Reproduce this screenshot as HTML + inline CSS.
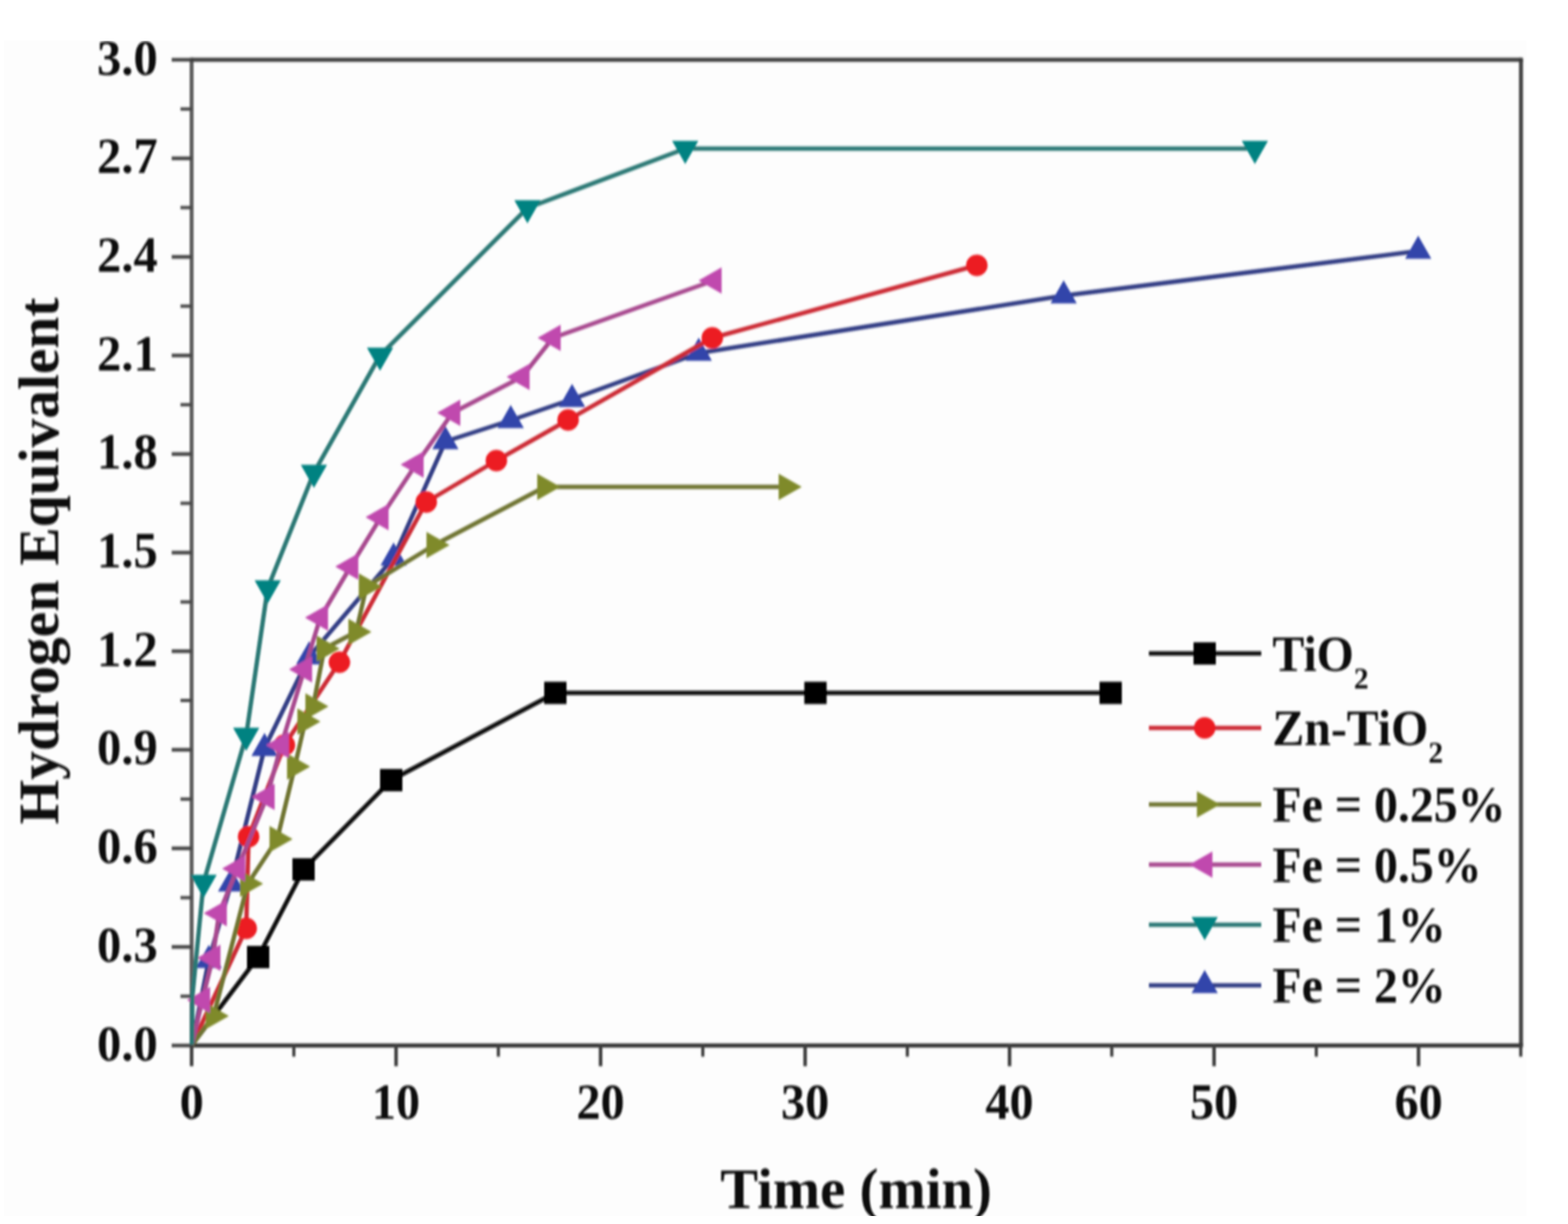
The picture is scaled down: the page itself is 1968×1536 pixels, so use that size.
<!DOCTYPE html><html><head><meta charset="utf-8"><style>html,body{margin:0;padding:0;background:#fff;}svg{display:block}text{font-family:"Liberation Serif","Times New Roman",serif;font-weight:bold;fill:#111;}</style></head><body>
<svg width="1968" height="1536" viewBox="0 0 1968 1536">
<rect x="0" y="0" width="1968" height="1536" fill="#ffffff"/>
<defs><filter id="soft" filterUnits="userSpaceOnUse" x="0" y="0" width="1968" height="1536"><feGaussianBlur stdDeviation="1.0 1.5"/></filter></defs>
<rect x="5" y="51" width="1911" height="1475" fill="#fdfdfd"/>
<g filter="url(#soft)">
<g stroke="#404040" stroke-width="5" fill="none">
<path d="M240.5 75H1909" stroke="#3a3a3a"/>
<path d="M1909 75V1312" stroke="#454545"/>
<path d="M240.5 1312H1909" stroke="#2e2e2e"/>
<path d="M240.5 75V1312" stroke="#606060"/>
<path d="M238.0 75h5M1906.5 75h5M238.0 1312h5M1906.5 1312h5" stroke="#3a3a3a"/>
<line x1="215.5" y1="1312.0" x2="240.5" y2="1312.0" stroke-width="4.5"/>
<line x1="226.5" y1="1250.2" x2="240.5" y2="1250.2" stroke-width="4"/>
<line x1="215.5" y1="1188.3" x2="240.5" y2="1188.3" stroke-width="4.5"/>
<line x1="226.5" y1="1126.5" x2="240.5" y2="1126.5" stroke-width="4"/>
<line x1="215.5" y1="1064.6" x2="240.5" y2="1064.6" stroke-width="4.5"/>
<line x1="226.5" y1="1002.8" x2="240.5" y2="1002.8" stroke-width="4"/>
<line x1="215.5" y1="940.9" x2="240.5" y2="940.9" stroke-width="4.5"/>
<line x1="226.5" y1="879.0" x2="240.5" y2="879.0" stroke-width="4"/>
<line x1="215.5" y1="817.2" x2="240.5" y2="817.2" stroke-width="4.5"/>
<line x1="226.5" y1="755.4" x2="240.5" y2="755.4" stroke-width="4"/>
<line x1="215.5" y1="693.5" x2="240.5" y2="693.5" stroke-width="4.5"/>
<line x1="226.5" y1="631.6" x2="240.5" y2="631.6" stroke-width="4"/>
<line x1="215.5" y1="569.8" x2="240.5" y2="569.8" stroke-width="4.5"/>
<line x1="226.5" y1="507.9" x2="240.5" y2="507.9" stroke-width="4"/>
<line x1="215.5" y1="446.1" x2="240.5" y2="446.1" stroke-width="4.5"/>
<line x1="226.5" y1="384.2" x2="240.5" y2="384.2" stroke-width="4"/>
<line x1="215.5" y1="322.4" x2="240.5" y2="322.4" stroke-width="4.5"/>
<line x1="226.5" y1="260.5" x2="240.5" y2="260.5" stroke-width="4"/>
<line x1="215.5" y1="198.7" x2="240.5" y2="198.7" stroke-width="4.5"/>
<line x1="226.5" y1="136.8" x2="240.5" y2="136.8" stroke-width="4"/>
<line x1="215.5" y1="75.0" x2="240.5" y2="75.0" stroke-width="4.5"/>
<line x1="240.5" y1="1312" x2="240.5" y2="1338" stroke-width="4.5"/>
<line x1="368.8" y1="1312" x2="368.8" y2="1326" stroke-width="4"/>
<line x1="497.1" y1="1312" x2="497.1" y2="1338" stroke-width="4.5"/>
<line x1="625.5" y1="1312" x2="625.5" y2="1326" stroke-width="4"/>
<line x1="753.8" y1="1312" x2="753.8" y2="1338" stroke-width="4.5"/>
<line x1="882.1" y1="1312" x2="882.1" y2="1326" stroke-width="4"/>
<line x1="1010.5" y1="1312" x2="1010.5" y2="1338" stroke-width="4.5"/>
<line x1="1138.8" y1="1312" x2="1138.8" y2="1326" stroke-width="4"/>
<line x1="1267.1" y1="1312" x2="1267.1" y2="1338" stroke-width="4.5"/>
<line x1="1395.4" y1="1312" x2="1395.4" y2="1326" stroke-width="4"/>
<line x1="1523.8" y1="1312" x2="1523.8" y2="1338" stroke-width="4.5"/>
<line x1="1652.1" y1="1312" x2="1652.1" y2="1326" stroke-width="4"/>
<line x1="1780.4" y1="1312" x2="1780.4" y2="1338" stroke-width="4.5"/>
<line x1="1908.7" y1="1312" x2="1908.7" y2="1326" stroke-width="4"/>
</g>
<g font-size="61" text-anchor="end">
<text transform="translate(198,1330.5) scale(1,1.03)">0.0</text>
<text transform="translate(198,1206.8) scale(1,1.03)">0.3</text>
<text transform="translate(198,1083.1) scale(1,1.03)">0.6</text>
<text transform="translate(198,959.4) scale(1,1.03)">0.9</text>
<text transform="translate(198,835.7) scale(1,1.03)">1.2</text>
<text transform="translate(198,712.0) scale(1,1.03)">1.5</text>
<text transform="translate(198,588.3) scale(1,1.03)">1.8</text>
<text transform="translate(198,464.6) scale(1,1.03)">2.1</text>
<text transform="translate(198,340.9) scale(1,1.03)">2.4</text>
<text transform="translate(198,217.2) scale(1,1.03)">2.7</text>
<text transform="translate(198,93.5) scale(1,1.03)">3.0</text>
</g>
<g font-size="60.5" text-anchor="middle">
<text transform="translate(240.5,1404) scale(1,1.045)">0</text>
<text transform="translate(497.1,1404) scale(1,1.045)">10</text>
<text transform="translate(753.8,1404) scale(1,1.045)">20</text>
<text transform="translate(1010.5,1404) scale(1,1.045)">30</text>
<text transform="translate(1267.1,1404) scale(1,1.045)">40</text>
<text transform="translate(1523.8,1404) scale(1,1.045)">50</text>
<text transform="translate(1780.4,1404) scale(1,1.045)">60</text>
</g>
<text transform="translate(1074.5,1516) scale(0.99,1)" font-size="72" text-anchor="middle">Time (min)</text>
<text transform="translate(73,704) rotate(-90)" font-size="72" text-anchor="middle">Hydrogen Equivalent</text>
<polyline points="241,1311 324,1201 381,1091 491,979 697,869.5 1023.5,869.5 1394,869.5" fill="none" stroke="#0a0a0a" stroke-width="5.5" stroke-linejoin="round"/>
<rect x="310.0" y="1187.0" width="28" height="28" fill="#000000"/>
<rect x="367.0" y="1077.0" width="28" height="28" fill="#000000"/>
<rect x="477.0" y="965.0" width="28" height="28" fill="#000000"/>
<rect x="683.0" y="855.5" width="28" height="28" fill="#000000"/>
<rect x="1009.5" y="855.5" width="28" height="28" fill="#000000"/>
<rect x="1380.0" y="855.5" width="28" height="28" fill="#000000"/>
<polyline points="241,1311 262,1205 290,1109 332,939 388,824 494,700 559,554 641,527.5 718,501 877,443 1335,371 1780,315" fill="none" stroke="#323c84" stroke-width="5.5" stroke-linejoin="round"/>
<polygon points="262.0,1185.7 245.5,1214.7 278.5,1214.7" fill="#3344aa"/>
<polygon points="290.0,1089.7 273.5,1118.7 306.5,1118.7" fill="#3344aa"/>
<polygon points="332.0,919.7 315.5,948.7 348.5,948.7" fill="#3344aa"/>
<polygon points="388.0,804.7 371.5,833.7 404.5,833.7" fill="#3344aa"/>
<polygon points="494.0,680.7 477.5,709.7 510.5,709.7" fill="#3344aa"/>
<polygon points="559.0,534.7 542.5,563.7 575.5,563.7" fill="#3344aa"/>
<polygon points="641.0,508.2 624.5,537.2 657.5,537.2" fill="#3344aa"/>
<polygon points="718.0,481.7 701.5,510.7 734.5,510.7" fill="#3344aa"/>
<polygon points="877.0,423.7 860.5,452.7 893.5,452.7" fill="#3344aa"/>
<polygon points="1335.0,351.7 1318.5,380.7 1351.5,380.7" fill="#3344aa"/>
<polygon points="1780.0,295.7 1763.5,324.7 1796.5,324.7" fill="#3344aa"/>
<polyline points="241,1311 309,1165 312,1050 357,935 426,831 535,630 623,578 713,527 894,424 1226,333" fill="none" stroke="#cc2a34" stroke-width="5.5" stroke-linejoin="round"/>
<circle cx="309" cy="1165" r="13.5" fill="#ec1c24"/>
<circle cx="312" cy="1050" r="13.5" fill="#ec1c24"/>
<circle cx="357" cy="935" r="13.5" fill="#ec1c24"/>
<circle cx="426" cy="831" r="13.5" fill="#ec1c24"/>
<circle cx="535" cy="630" r="13.5" fill="#ec1c24"/>
<circle cx="623" cy="578" r="13.5" fill="#ec1c24"/>
<circle cx="713" cy="527" r="13.5" fill="#ec1c24"/>
<circle cx="894" cy="424" r="13.5" fill="#ec1c24"/>
<circle cx="1226" cy="333" r="13.5" fill="#ec1c24"/>
<polyline points="241,1311 268,1275 311,1109 348,1053 370,962 383,905.5 393,886.5 407,814 447,793 460,736 545,684 684,611 987,611" fill="none" stroke="#6f7432" stroke-width="5.5" stroke-linejoin="round"/>
<polygon points="287.3,1275.0 258.3,1258.5 258.3,1291.5" fill="#7f8a2c"/>
<polygon points="330.3,1109.0 301.3,1092.5 301.3,1125.5" fill="#7f8a2c"/>
<polygon points="367.3,1053.0 338.3,1036.5 338.3,1069.5" fill="#7f8a2c"/>
<polygon points="389.3,962.0 360.3,945.5 360.3,978.5" fill="#7f8a2c"/>
<polygon points="402.3,905.5 373.3,889.0 373.3,922.0" fill="#7f8a2c"/>
<polygon points="412.3,886.5 383.3,870.0 383.3,903.0" fill="#7f8a2c"/>
<polygon points="426.3,814.0 397.3,797.5 397.3,830.5" fill="#7f8a2c"/>
<polygon points="466.3,793.0 437.3,776.5 437.3,809.5" fill="#7f8a2c"/>
<polygon points="479.3,736.0 450.3,719.5 450.3,752.5" fill="#7f8a2c"/>
<polygon points="564.3,684.0 535.3,667.5 535.3,700.5" fill="#7f8a2c"/>
<polygon points="703.3,611.0 674.3,594.5 674.3,627.5" fill="#7f8a2c"/>
<polygon points="1006.3,611.0 977.3,594.5 977.3,627.5" fill="#7f8a2c"/>
<polyline points="241,1311 254,1255 267,1202 275,1146 298,1090 335,1000 353,935 382,840 402,775 440,711 478,649 522,583 568,518 655,473 694,424 896,352" fill="none" stroke="#a8488f" stroke-width="5.5" stroke-linejoin="round"/>
<polygon points="234.7,1255.0 263.7,1238.5 263.7,1271.5" fill="#c04aae"/>
<polygon points="247.7,1202.0 276.7,1185.5 276.7,1218.5" fill="#c04aae"/>
<polygon points="255.7,1146.0 284.7,1129.5 284.7,1162.5" fill="#c04aae"/>
<polygon points="278.7,1090.0 307.7,1073.5 307.7,1106.5" fill="#c04aae"/>
<polygon points="315.7,1000.0 344.7,983.5 344.7,1016.5" fill="#c04aae"/>
<polygon points="333.7,935.0 362.7,918.5 362.7,951.5" fill="#c04aae"/>
<polygon points="362.7,840.0 391.7,823.5 391.7,856.5" fill="#c04aae"/>
<polygon points="382.7,775.0 411.7,758.5 411.7,791.5" fill="#c04aae"/>
<polygon points="420.7,711.0 449.7,694.5 449.7,727.5" fill="#c04aae"/>
<polygon points="458.7,649.0 487.7,632.5 487.7,665.5" fill="#c04aae"/>
<polygon points="502.7,583.0 531.7,566.5 531.7,599.5" fill="#c04aae"/>
<polygon points="548.7,518.0 577.7,501.5 577.7,534.5" fill="#c04aae"/>
<polygon points="635.7,473.0 664.7,456.5 664.7,489.5" fill="#c04aae"/>
<polygon points="674.7,424.0 703.7,407.5 703.7,440.5" fill="#c04aae"/>
<polygon points="876.7,352.0 905.7,335.5 905.7,368.5" fill="#c04aae"/>
<polyline points="241,1311 241.5,1250 255.5,1107.5 309,923 336,738 394,593 477,446 662,261 860,186.5 1575,186.5" fill="none" stroke="#2a7874" stroke-width="5.5" stroke-linejoin="round"/>
<polygon points="255.5,1126.8 239.0,1097.8 272.0,1097.8" fill="#008281"/>
<polygon points="309.0,942.3 292.5,913.3 325.5,913.3" fill="#008281"/>
<polygon points="336.0,757.3 319.5,728.3 352.5,728.3" fill="#008281"/>
<polygon points="394.0,612.3 377.5,583.3 410.5,583.3" fill="#008281"/>
<polygon points="477.0,465.3 460.5,436.3 493.5,436.3" fill="#008281"/>
<polygon points="662.0,280.3 645.5,251.3 678.5,251.3" fill="#008281"/>
<polygon points="860.0,205.8 843.5,176.8 876.5,176.8" fill="#008281"/>
<polygon points="1575.0,205.8 1558.5,176.8 1591.5,176.8" fill="#008281"/>
<line x1="1442" y1="820" x2="1583" y2="820" stroke="#0a0a0a" stroke-width="5.5"/>
<rect x="1498.0" y="806.0" width="28" height="28" fill="#000000"/>
<text transform="translate(1597,841.5) scale(1,1.04)" font-size="60">TiO<tspan font-size="37" dy="21.5">2</tspan></text>
<line x1="1442" y1="913.5" x2="1583" y2="913.5" stroke="#cc2a34" stroke-width="5.5"/>
<circle cx="1512" cy="913.5" r="13.5" fill="#ec1c24"/>
<text transform="translate(1597,935.0) scale(1,1.04)" font-size="60">Zn-TiO<tspan font-size="37" dy="21.5">2</tspan></text>
<line x1="1442" y1="1009.5" x2="1583" y2="1009.5" stroke="#6f7432" stroke-width="5.5"/>
<polygon points="1531.3,1009.5 1502.3,993.0 1502.3,1026.0" fill="#7f8a2c"/>
<text transform="translate(1597,1031.0) scale(1,1.04)" font-size="60">Fe = 0.25%</text>
<line x1="1442" y1="1085" x2="1583" y2="1085" stroke="#a8488f" stroke-width="5.5"/>
<polygon points="1492.7,1085.0 1521.7,1068.5 1521.7,1101.5" fill="#c04aae"/>
<text transform="translate(1597,1106.5) scale(1,1.04)" font-size="60">Fe = 0.5%</text>
<line x1="1442" y1="1160.5" x2="1583" y2="1160.5" stroke="#2a7874" stroke-width="5.5"/>
<polygon points="1512.0,1179.8 1495.5,1150.8 1528.5,1150.8" fill="#008281"/>
<text transform="translate(1597,1182.0) scale(1,1.04)" font-size="60">Fe = 1%</text>
<line x1="1442" y1="1236.5" x2="1583" y2="1236.5" stroke="#323c84" stroke-width="5.5"/>
<polygon points="1512.0,1217.2 1495.5,1246.2 1528.5,1246.2" fill="#3344aa"/>
<text transform="translate(1597,1258.0) scale(1,1.04)" font-size="60">Fe = 2%</text>
</g>
<path d="M0 0H1968V51H0Z M0 1526H1968V1536H0Z M0 0H5V1536H0Z M1916 0H1968V1536H1916Z" fill="#ffffff"/>
</svg></body></html>
